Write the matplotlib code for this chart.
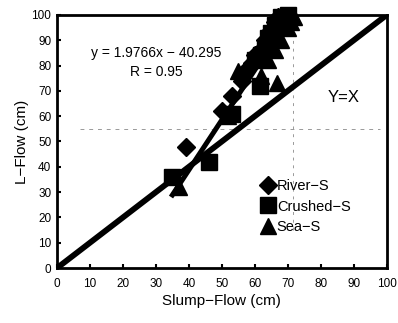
import numpy as np
import matplotlib.pyplot as plt

plt.rcParams['font.family'] = ['Liberation Sans', 'DejaVu Sans']

# data
river_x = [39, 50, 53, 56, 58, 59, 60, 62, 63, 65, 66, 67]
river_y = [48, 62, 68, 74, 79, 81, 84, 86, 90, 94, 97, 99]
crushed_x = [35, 46, 53, 61.5, 60, 62, 63, 64, 65, 66, 68, 70]
crushed_y = [36, 42, 61, 72, 82, 84, 87, 91, 93, 96, 99, 100]
sea_x = [37, 52, 55, 62, 66.7, 64, 66, 68, 70, 71, 72]
sea_y = [32, 60, 78, 76, 73, 82, 86, 90, 95, 97, 99]

slope = 1.9766
intercept = -40.295
fit_x = [35, 70.98]

ticks = [0, 10, 20, 30, 40, 50, 60, 70, 80, 90, 100]

fig = plt.figure(figsize=(3.98, 3.23), dpi=100)
ax = fig.add_axes([0.143, 0.170, 0.829, 0.784])

ax.plot([7, 98], [55, 55], color='#999999', lw=0.7, ls=(0, (4, 5)), zorder=1)
ax.plot([71.5, 71.5], [15, 94], color='#999999', lw=0.7, ls=(0, (3, 5)), zorder=1)

ax.plot([0, 100], [0, 100], color='black', lw=4.2, solid_capstyle='butt', zorder=2)
fx = np.array(fit_x)
ax.plot(fx, slope * fx + intercept, color='black', lw=3.6, zorder=2)

ms = 11
ax.plot(river_x, river_y, 'D', color='black', ms=ms - 2, ls='none', label='River\u2212S', clip_on=False, zorder=3)
ax.plot(crushed_x, crushed_y, 's', color='black', ms=ms, ls='none', label='Crushed\u2212S', clip_on=False, zorder=3)
ax.plot(sea_x, sea_y, '^', color='black', ms=ms, ls='none', label='Sea\u2212S', clip_on=False, zorder=3)

ax.text(30, 85, 'y = 1.9766x \u2212 40.295', fontsize=10, ha='center', va='center')
ax.text(30, 77.5, 'R = 0.95', fontsize=10, ha='center', va='center')
ax.text(87, 67.5, 'Y=X', fontsize=12, ha='center', va='center')

ax.set_xlim(0, 100)
ax.set_ylim(0, 100)
ax.set_xticks(ticks)
ax.set_yticks(ticks)
ax.tick_params(direction='in', length=3, width=1.5, labelsize=8.5, pad=7)
ax.tick_params(axis='y', pad=4)
for s in ax.spines.values():
    s.set_linewidth(2)

ax.set_xlabel('Slump\u2212Flow (cm)', fontsize=11, labelpad=3)
ax.set_ylabel('L\u2212Flow (cm)', fontsize=11, labelpad=2)

ax.legend(loc='upper left', bbox_to_anchor=(0.6, 0.375), frameon=False, fontsize=10.5,
          handletextpad=0.1, handlelength=1.0, labelspacing=0.45, borderaxespad=0)

fig.savefig('out.png', dpi=100)
